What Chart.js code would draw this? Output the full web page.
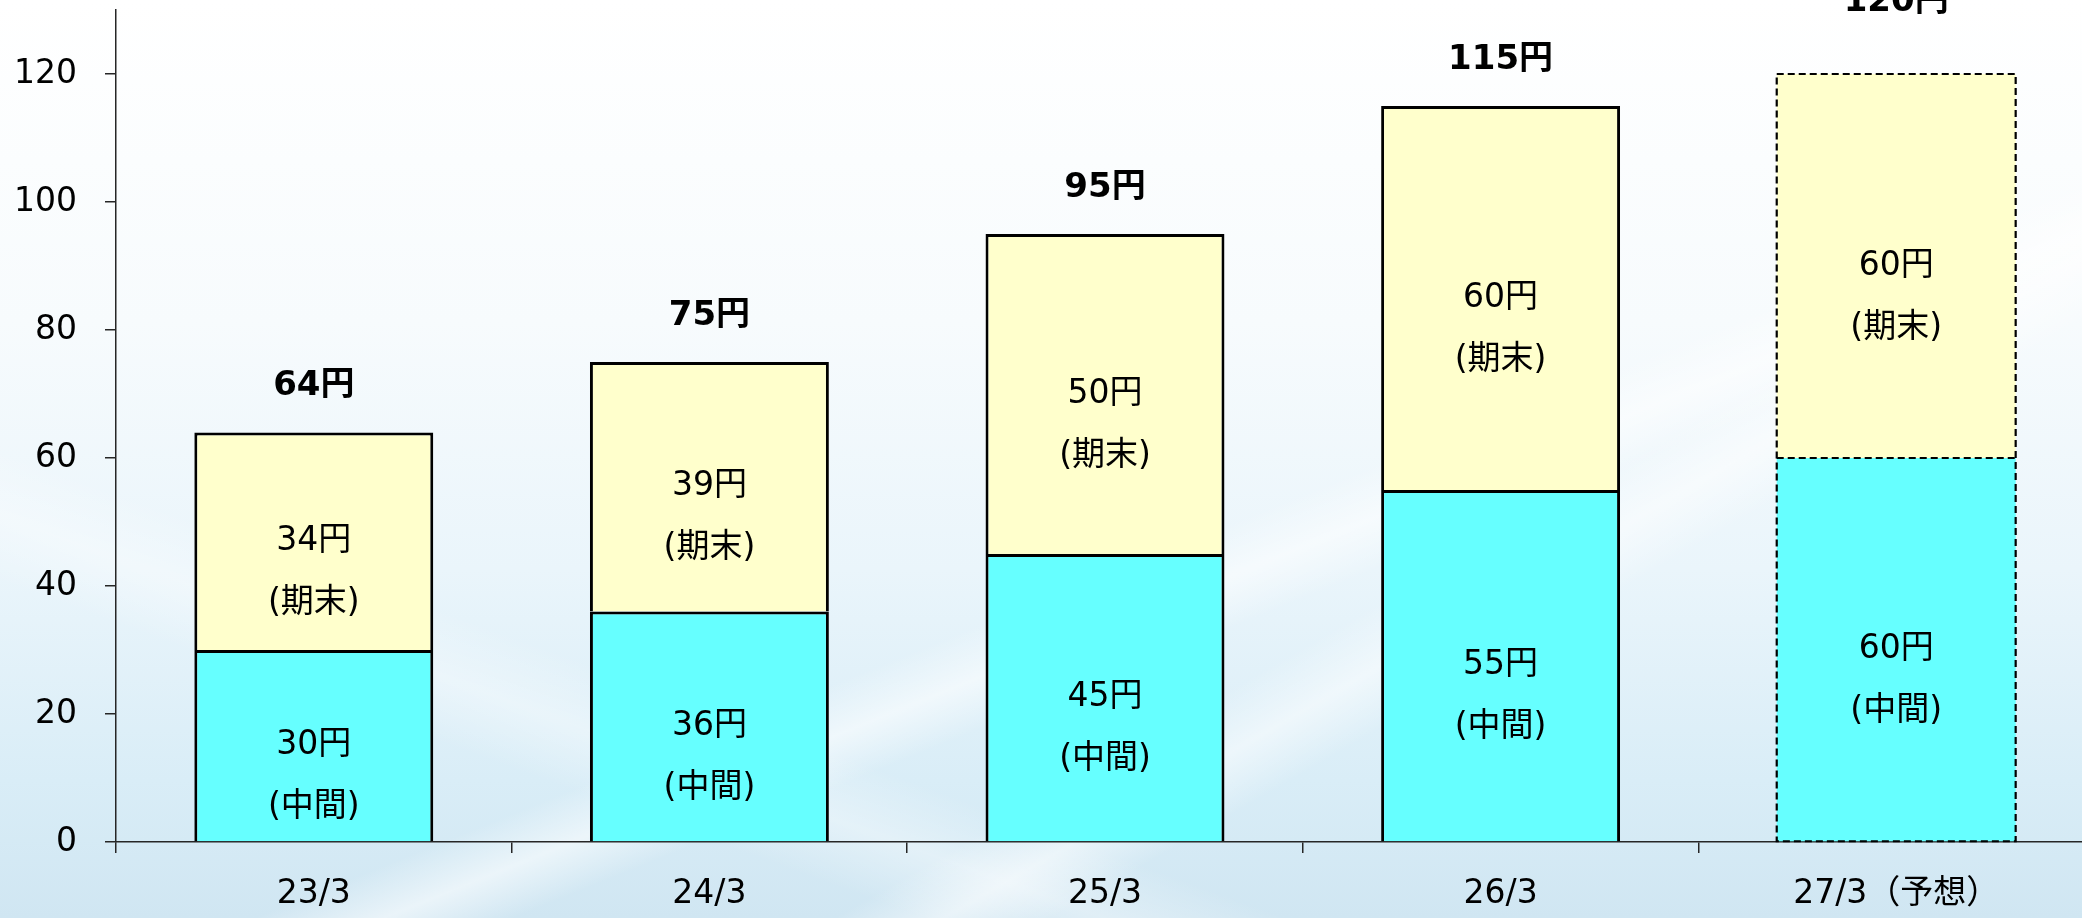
<!DOCTYPE html>
<html lang="ja">
<head>
<meta charset="utf-8">
<title>配当金の推移</title>
<script src="https://cdn.jsdelivr.net/npm/chart.js@4.4.1/dist/chart.umd.min.js"></script>
<style>
  html, body {
    margin: 0;
    padding: 0;
    width: 2082px;
    height: 918px;
    overflow: hidden;
  }
  body {
    background:
      linear-gradient(158deg, rgba(255,255,255,0) 58%, rgba(255,255,255,0.55) 61%, rgba(255,255,255,0) 64%),
      linear-gradient(150deg, rgba(255,255,255,0) 66%, rgba(255,255,255,0.5) 69%, rgba(255,255,255,0) 72%),
      linear-gradient(20deg, rgba(255,255,255,0) 20%, rgba(255,255,255,0.35) 24%, rgba(255,255,255,0) 28%),
      linear-gradient(180deg, #ffffff 0%, #f7fbfd 35%, #eaf5fb 62%, #d9edf7 85%, #d0e6f2 100%);
  }
  #wrap {
    position: relative;
    width: 2100px;
    height: 918px;
  }
</style>
</head>
<body>
<div id="wrap"><canvas id="dividendChart"></canvas></div>
<script>
// データ（1株当たり配当金）
const fiscalYears = ["23/3", "24/3", "25/3", "26/3", "27/3（予想）"];
const interimDividends = [30, 36, 45, 55, 60];
const yearEndDividends = [34, 39, 50, 60, 60];
const annualTotals = [64, 75, 95, 115, 120];
const yTicks = [0, 20, 40, 60, 80, 100, 120];
const interimNote = "(中間)";
const yearEndNote = "(期末)";
const forecastIndex = 4;

const FONT = "'DejaVu Sans', 'Noto Sans CJK JP', sans-serif";
const colors = {
  interim: "#66ffff",
  yearEnd: "#ffffcc",
  border: "#000000",
  axis: "#262626",
  text: "#000000"
};

// ラベルと予想値の破線枠
const dividendLabels = {
  id: "dividendLabels",
  afterDatasetsDraw(chart) {
    const ctx = chart.ctx;
    const lower = chart.getDatasetMeta(0).data;
    const upper = chart.getDatasetMeta(1).data;
    const lineGap = 62;

    ctx.save();
    ctx.textAlign = "center";
    ctx.textBaseline = "middle";
    ctx.fillStyle = colors.text;

    lower.forEach((bar, i) => {
      const top = upper[i];

      if (i === forecastIndex) {
        const left = bar.x - bar.width / 2;
        ctx.save();
        ctx.strokeStyle = colors.border;
        ctx.lineWidth = 2.2;
        ctx.setLineDash([7, 4]);
        ctx.strokeRect(left, top.y, bar.width, bar.base - top.y);
        ctx.beginPath();
        ctx.moveTo(left, bar.y);
        ctx.lineTo(left + bar.width, bar.y);
        ctx.stroke();
        ctx.restore();
      }

      ctx.font = "33px " + FONT;
      const midLow = (bar.y + bar.base) / 2;
      ctx.fillText(interimDividends[i] + "円", bar.x, midLow);
      ctx.fillText(interimNote, bar.x, midLow + lineGap);

      const midUp = (top.y + top.base) / 2;
      ctx.fillText(yearEndDividends[i] + "円", top.x, midUp);
      ctx.fillText(yearEndNote, top.x, midUp + lineGap);

      // 合計（予想の合計は枠外の上端に置かれている）
      ctx.font = "bold 34px " + FONT;
      const lift = i === forecastIndex ? 72 : 46;
      ctx.fillText(annualTotals[i] + "円", top.x, top.y - lift);
    });

    ctx.restore();
  }
};

const solidBorder = (c) => (c.dataIndex === forecastIndex ? 0 : 3);

new Chart(document.getElementById("dividendChart"), {
  type: "bar",
  data: {
    labels: fiscalYears,
    datasets: [
      {
        label: "中間",
        data: interimDividends,
        backgroundColor: colors.interim,
        borderColor: colors.border,
        borderWidth: solidBorder,
        barPercentage: 0.604,
        categoryPercentage: 1
      },
      {
        label: "期末",
        data: yearEndDividends,
        backgroundColor: colors.yearEnd,
        borderColor: colors.border,
        borderWidth: solidBorder,
        barPercentage: 0.604,
        categoryPercentage: 1
      }
    ]
  },
  options: {
    responsive: true,
    maintainAspectRatio: false,
    animation: false,
    layout: { padding: { top: 10, right: 6, left: 0, bottom: 0 } },
    plugins: {
      legend: { display: false },
      tooltip: { enabled: false }
    },
    scales: {
      x: {
        stacked: true,
        offset: true,
        grid: {
          display: true,
          offset: true,
          drawOnChartArea: false,
          drawTicks: true,
          tickLength: 11,
          color: colors.axis,
          lineWidth: 1.5
        },
        border: { display: true, color: colors.axis, width: 1.5 },
        ticks: {
          color: colors.text,
          padding: 22,
          maxRotation: 0,
          autoSkip: false,
          font: { family: FONT, size: 33 }
        },
        afterFit(scale) {
          scale.height = 76;
          scale.paddingLeft = 0;
          scale.paddingRight = 0;
        }
      },
      y: {
        stacked: true,
        min: 0,
        max: 130,
        grid: {
          display: true,
          drawOnChartArea: false,
          drawTicks: true,
          tickLength: 11,
          color: colors.axis,
          lineWidth: 1.5
        },
        border: { display: true, color: colors.axis, width: 1.5 },
        ticks: {
          color: colors.text,
          padding: 28,
          font: { family: FONT, size: 33 }
        },
        afterBuildTicks(scale) {
          scale.ticks = yTicks.map(v => ({ value: v }));
        },
        afterFit(scale) {
          scale.width = 116;
          scale.paddingTop = 0;
          scale.paddingBottom = 0;
        }
      }
    }
  },
  plugins: [dividendLabels]
});
</script>
</body>
</html>
